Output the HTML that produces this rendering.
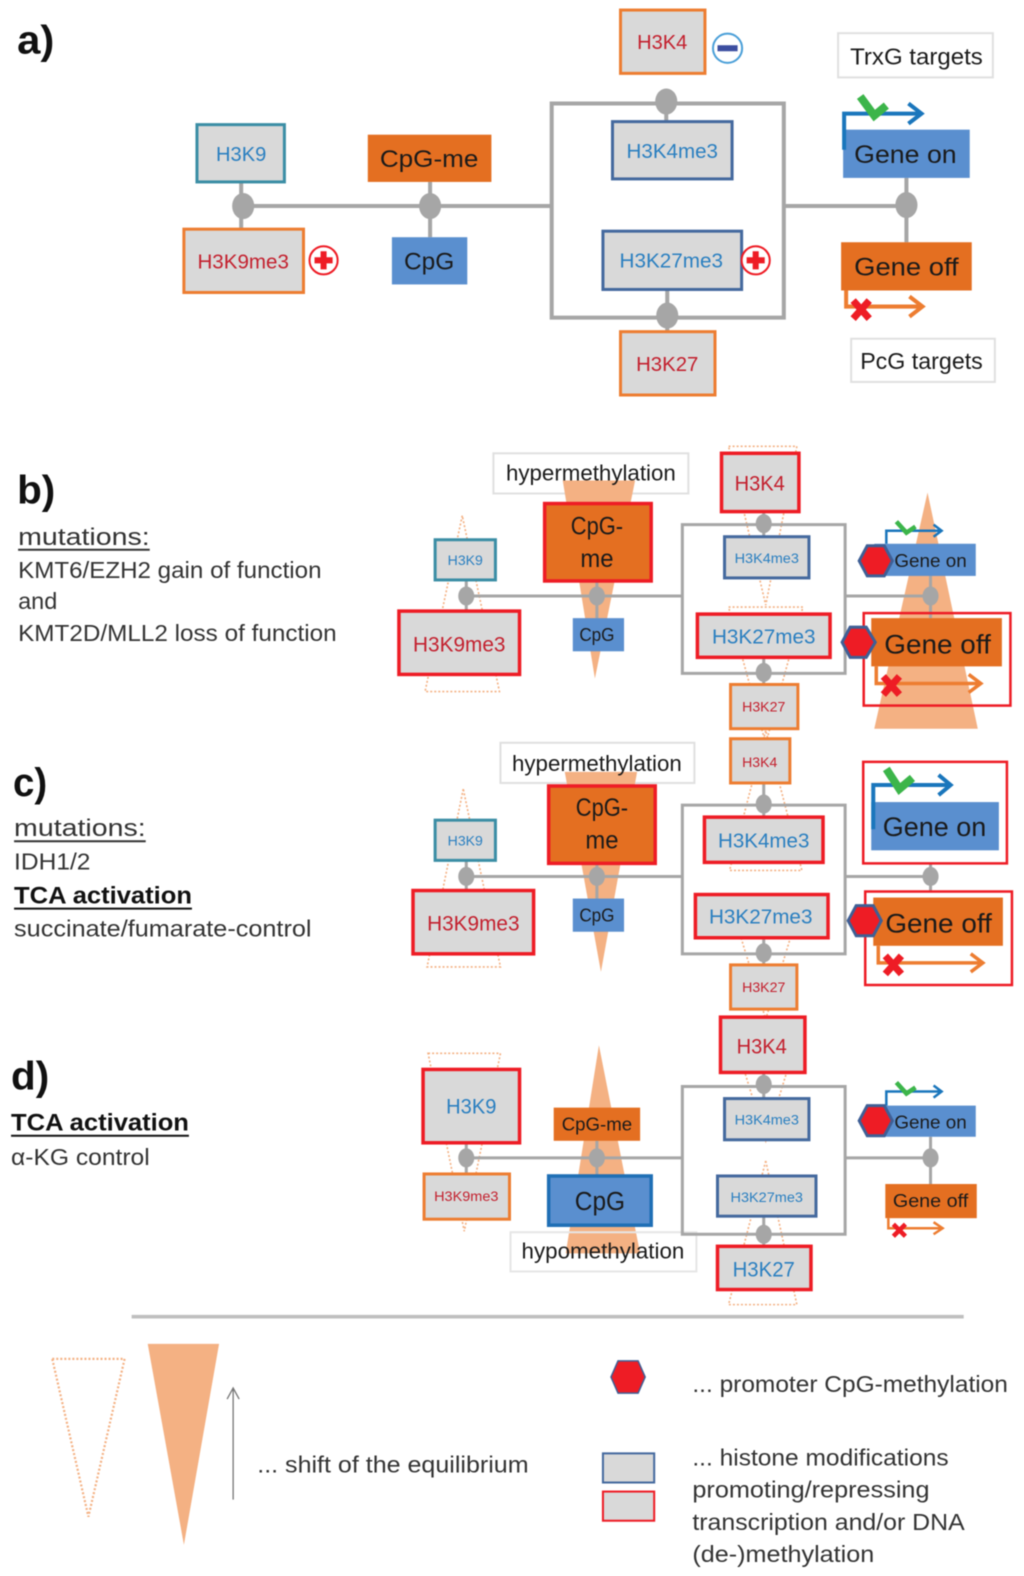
<!DOCTYPE html>
<html><head><meta charset="utf-8"><style>
html,body{margin:0;padding:0;background:#fff}
svg{display:block;filter:blur(.45px)}
text{font-family:"Liberation Sans",sans-serif;text-anchor:middle;fill:#1a1a1a;dominant-baseline:auto}
.l{text-anchor:start;fill:#333}
.h{font-weight:bold;font-size:40px;text-anchor:start;fill:#111}
.b{fill:#2a7fc0}.r{fill:#c3202e}
.g{fill:#d9d9d9}
.or{stroke:#ed7d31;stroke-width:3;fill:#d9d9d9}
.rd{stroke:#ee1c25;stroke-width:3.5;fill:#d9d9d9}
.bl{stroke:#44699e;stroke-width:3;fill:#d9d9d9}
.te{stroke:#3b8ea5;stroke-width:3;fill:#d9d9d9}
.o{fill:#e46f21}.c{fill:#5a8fcf}
.ln{stroke:#a6a6a6;stroke-width:4;fill:none}
.dot{fill:#a6a6a6}
.tri{fill:#f4b183}
.da{fill:none;stroke:#f4b183;stroke-width:1.6;stroke-dasharray:2 2}
.lab{fill:#fff;stroke:#e0e0e0;stroke-width:2}
.rb{fill:none;stroke:#ee1c25;stroke-width:2.5}
.hex{fill:#ee1c25;stroke:#3f5f95;stroke-width:3}
.ab{fill:none;stroke:#1a76bc;stroke-width:3.5}
.ao{fill:none;stroke:#ed7d31;stroke-width:3.5}
.ck{fill:none;stroke:#3cb54a;stroke-width:8}
.x{stroke:#ee1c25;stroke-width:7;fill:none}
</style></head><body>
<svg width="1024" height="1576" viewBox="0 0 1019 1568" preserveAspectRatio="none" xmlns="http://www.w3.org/2000/svg">
<rect width="1024" height="1576" fill="#fff"/>

<!-- PANEL A -->
<text class="h" x="17" y="53" textLength="37" lengthAdjust="spacingAndGlyphs">a)</text>
<path class="ln" d="M549 103H780V316H549Z M242 205H549 M780 205H902 M240 181V228 M428 181V236 M902 177V241 M663 101V121 M664 288V330"/>
<ellipse class="dot" cx="242" cy="205" rx="11" ry="13"/><ellipse class="dot" cx="428" cy="205" rx="11" ry="13"/>
<ellipse class="dot" cx="902" cy="204" rx="11" ry="13"/><ellipse class="dot" cx="663" cy="101" rx="11" ry="13"/><ellipse class="dot" cx="664" cy="314" rx="11" ry="13"/>
<rect class="or" x="617.500" y="10" width="84" height="63"/><text class="r" x="659" y="49" font-size="20" textLength="50" lengthAdjust="spacingAndGlyphs">H3K4</text>
<circle cx="724" cy="48" r="14.500" fill="#fff" stroke="#4a9fd8" stroke-width="2"/><rect x="714" y="45" width="20" height="6" fill="#3c4ea0"/>
<rect class="lab" x="834" y="33" width="154" height="44"/><text x="912" y="64" font-size="23" textLength="132" lengthAdjust="spacingAndGlyphs">TrxG targets</text>
<rect class="bl" x="609.500" y="121" width="119" height="57"/><text class="b" x="669" y="157" font-size="20" textLength="91" lengthAdjust="spacingAndGlyphs">H3K4me3</text>
<rect class="bl" x="600" y="230" width="138" height="58"/><text class="b" x="668" y="266" font-size="20" textLength="103" lengthAdjust="spacingAndGlyphs">H3K27me3</text>
<circle cx="752" cy="259" r="14" fill="#fff" stroke="#ee1c25" stroke-width="2"/><path d="M752 250V268M743 259H761" stroke="#ee1c25" stroke-width="6"/>
<rect class="or" x="617.500" y="330" width="94" height="63"/><text class="r" x="664" y="369" font-size="20" textLength="62" lengthAdjust="spacingAndGlyphs">H3K27</text>
<rect class="te" x="196" y="124" width="87" height="57"/><text class="b" x="240" y="160" font-size="20" textLength="50" lengthAdjust="spacingAndGlyphs">H3K9</text>
<rect class="or" x="183" y="228" width="119" height="63"/><text class="r" x="242" y="267" font-size="20" textLength="91" lengthAdjust="spacingAndGlyphs">H3K9me3</text>
<circle cx="322" cy="259" r="14" fill="#fff" stroke="#ee1c25" stroke-width="2"/><path d="M322 250V268M313 259H331" stroke="#ee1c25" stroke-width="6"/>
<rect class="o" x="366" y="134" width="123" height="47"/><text x="427" y="166" font-size="24" textLength="98" lengthAdjust="spacingAndGlyphs">CpG-me</text>
<rect class="c" x="390" y="236" width="75" height="47"/><text x="427" y="268" font-size="24" textLength="50" lengthAdjust="spacingAndGlyphs">CpG</text>
<rect class="c" x="839" y="129" width="126" height="48"/><text x="901" y="162" font-size="25" textLength="102" lengthAdjust="spacingAndGlyphs">Gene on</text>
<path class="ab" style="stroke-width:4" d="M840 149V113H916M904 103L917 113L904 123"/><path class="ck" d="M856 96L870 115L882 105"/>
<rect class="o" x="837" y="241" width="130" height="48"/><text x="902" y="274" font-size="25" textLength="104" lengthAdjust="spacingAndGlyphs">Gene off</text>
<path class="ao" style="stroke-width:4" d="M842 289V305H917M905 295L918 305L905 315"/><path class="x" d="M849 299L865 317M865 299L849 317"/>
<rect class="lab" x="847" y="337" width="143" height="43"/><text x="917" y="367" font-size="23" textLength="122" lengthAdjust="spacingAndGlyphs">PcG targets</text>

<!-- PANEL B -->
<text class="h" x="17" y="501" textLength="38" lengthAdjust="spacingAndGlyphs">b)</text>
<text class="l" x="18" y="542" font-size="24" textLength="131" lengthAdjust="spacingAndGlyphs">mutations:</text><path d="M18 547H149" stroke="#333" stroke-width="2"/>
<text class="l" x="18" y="575" font-size="23" textLength="302" lengthAdjust="spacingAndGlyphs">KMT6/EZH2 gain of function</text>
<text class="l" x="18" y="606" font-size="23" textLength="39" lengthAdjust="spacingAndGlyphs">and</text>
<text class="l" x="18" y="638" font-size="23" textLength="317" lengthAdjust="spacingAndGlyphs">KMT2D/MLL2 loss of function</text>

<rect class="lab" x="491" y="451" width="194" height="40"/>
<polygon class="tri" points="560,478 632,478 592,675"/>
<polygon class="tri" points="870,725 973,725 923,490"/>
<polygon class="da" points="460,513 423,688 497,688"/>
<polygon class="da" points="725,444 793,444 762,602"/>
<polygon class="da" points="725,604 799,604 762,740"/>
<text x="588" y="478" font-size="22" textLength="169" lengthAdjust="spacingAndGlyphs">hypermethylation</text>
<path class="ln" style="stroke-width:3" d="M679 522H841V670H679Z M464 593H679 M841 593H926 M464 577V608 M594 578V615 M926 573V615 M760 509V533 M760 654V681"/>
<ellipse class="dot" cx="464" cy="593" rx="8" ry="9.500"/><ellipse class="dot" cx="594" cy="593" rx="8" ry="9.500"/><ellipse class="dot" cx="926" cy="593" rx="8" ry="9.500"/><ellipse class="dot" cx="760" cy="521" rx="8" ry="9.500"/><ellipse class="dot" cx="760" cy="669" rx="8" ry="9.500"/>
<rect class="te" x="433" y="537" width="60" height="40" stroke-width="2.500"/><text class="b" x="463" y="562" font-size="13.500" textLength="35" lengthAdjust="spacingAndGlyphs">H3K9</text>
<rect class="rd" x="397" y="608" width="120" height="63"/><text class="r" x="457" y="648" font-size="21" textLength="92" lengthAdjust="spacingAndGlyphs">H3K9me3</text>
<rect x="542" y="501" width="106" height="77" fill="#e46f21" stroke="#ee1c25" stroke-width="3.500"/>
<text x="594" y="532" font-size="25" textLength="52" lengthAdjust="spacingAndGlyphs">CpG-</text><text x="594" y="564" font-size="25" textLength="33" lengthAdjust="spacingAndGlyphs">me</text>
<rect class="c" x="570" y="615" width="51" height="33"/><text x="594" y="638" font-size="18" textLength="35" lengthAdjust="spacingAndGlyphs">CpG</text>
<rect class="rd" x="718" y="451" width="77" height="58"/><text class="r" x="756" y="488" font-size="21" textLength="50" lengthAdjust="spacingAndGlyphs">H3K4</text>
<rect class="bl" x="721" y="534" width="84" height="41" stroke-width="2.500"/><text class="b" x="763" y="560" font-size="13.500" textLength="64" lengthAdjust="spacingAndGlyphs">H3K4me3</text>
<rect class="rd" x="694" y="611" width="132" height="43"/><text class="b" x="760" y="640" font-size="20" textLength="103" lengthAdjust="spacingAndGlyphs">H3K27me3</text>
<rect class="or" x="727" y="681" width="67" height="44" stroke-width="2.500"/><text class="r" x="760" y="708" font-size="13.500" textLength="43" lengthAdjust="spacingAndGlyphs">H3K27</text>
<rect class="c" x="870" y="541" width="101" height="32"/><text x="926" y="564" font-size="18" textLength="72" lengthAdjust="spacingAndGlyphs">Gene on</text>
<path class="ab" style="stroke-width:2.500" d="M882 541V528H936M929 522L937 528L929 534"/><path class="ck" style="stroke-width:4.500" d="M892 519L902 530L911 524"/>
<polygon class="hex" points="855,558 863,543 880,543 888,558 880,573 863,573"/>
<rect class="rb" x="859.500" y="610" width="146" height="92"/>
<rect class="o" x="867" y="615" width="130" height="48"/><text x="933" y="650" font-size="27" textLength="106" lengthAdjust="spacingAndGlyphs">Gene off</text>
<polygon class="hex" points="838,639 846,624 862,624 871,639 862,654 846,654"/>
<path class="ao" d="M872 663V680H975M964 671L976 680L964 689"/><path class="x" d="M879 673L895 691M895 673L879 691"/>

<!-- PANEL C -->
<text class="h" x="13" y="792" textLength="34" lengthAdjust="spacingAndGlyphs">c)</text>
<text class="l" x="14" y="832" font-size="24" textLength="131" lengthAdjust="spacingAndGlyphs">mutations:</text><path d="M14 837H145" stroke="#333" stroke-width="2"/>
<text class="l" x="14" y="865" font-size="23" textLength="76" lengthAdjust="spacingAndGlyphs">IDH1/2</text>
<text class="l" x="14" y="899" font-size="24" font-weight="bold" textLength="177" lengthAdjust="spacingAndGlyphs" style="fill:#111">TCA activation</text><path d="M14 904H191" stroke="#111" stroke-width="2"/>
<text class="l" x="14" y="932" font-size="23" textLength="296" lengthAdjust="spacingAndGlyphs">succinate/fumarate-control</text>

<rect class="lab" x="498" y="739" width="193" height="40"/>
<polygon class="tri" points="562,768 634,768 598,967"/>
<polygon class="da" points="461,785 425,962 498,962"/>
<polygon class="da" points="762,727 726,866 798,866"/>
<polygon class="da" points="725,892 799,892 762,1014"/>
<text x="594" y="767" font-size="22" textLength="169" lengthAdjust="spacingAndGlyphs">hypermethylation</text>
<path class="ln" style="stroke-width:3" d="M679 801H841V949H679Z M464 872H679 M841 872H926 M464 856V885 M594 859V895 M926 859V887 M760 779V812 M760 933V959"/>
<ellipse class="dot" cx="464" cy="872" rx="8" ry="9.500"/><ellipse class="dot" cx="594" cy="872" rx="8" ry="9.500"/><ellipse class="dot" cx="926" cy="872" rx="8" ry="9.500"/><ellipse class="dot" cx="760" cy="800" rx="8" ry="9.500"/><ellipse class="dot" cx="760" cy="948" rx="8" ry="9.500"/>
<rect class="te" x="433" y="816" width="60" height="40" stroke-width="2.500"/><text class="b" x="463" y="841" font-size="13.500" textLength="35" lengthAdjust="spacingAndGlyphs">H3K9</text>
<rect class="rd" x="411" y="886" width="120" height="63"/><text class="r" x="471" y="926" font-size="21" textLength="92" lengthAdjust="spacingAndGlyphs">H3K9me3</text>
<rect x="546" y="782" width="106" height="77" fill="#e46f21" stroke="#ee1c25" stroke-width="3.500"/>
<text x="599" y="812" font-size="25" textLength="52" lengthAdjust="spacingAndGlyphs">CpG-</text><text x="599" y="844" font-size="25" textLength="33" lengthAdjust="spacingAndGlyphs">me</text>
<rect class="c" x="570" y="894" width="51" height="33"/><text x="594" y="917" font-size="18" textLength="35" lengthAdjust="spacingAndGlyphs">CpG</text>
<rect class="or" x="727" y="735" width="59" height="44" stroke-width="2.500"/><text class="r" x="756" y="763" font-size="13.500" textLength="35" lengthAdjust="spacingAndGlyphs">H3K4</text>
<rect class="rd" x="701" y="813" width="118" height="45"/><text class="b" x="760" y="843" font-size="20" textLength="91" lengthAdjust="spacingAndGlyphs">H3K4me3</text>
<rect class="rd" x="692" y="890" width="132" height="43"/><text class="b" x="757" y="919" font-size="20" textLength="103" lengthAdjust="spacingAndGlyphs">H3K27me3</text>
<rect class="or" x="727" y="960" width="66" height="44" stroke-width="2.500"/><text class="r" x="760" y="987" font-size="13.500" textLength="43" lengthAdjust="spacingAndGlyphs">H3K27</text>
<rect class="rb" x="859" y="758" width="143" height="101"/>
<rect class="c" x="867" y="798" width="127" height="48"/><text x="930" y="832" font-size="27" textLength="103" lengthAdjust="spacingAndGlyphs">Gene on</text>
<path class="ab" style="stroke-width:4" d="M869 825V781H945M934 771L946 781L934 791"/><path class="ck" d="M882 765L895 785L908 774"/>
<rect class="rb" x="861" y="887" width="146" height="93"/>
<rect class="o" x="869" y="893" width="129" height="48"/><text x="934" y="928" font-size="27" textLength="106" lengthAdjust="spacingAndGlyphs">Gene off</text>
<polygon class="hex" points="844,916 852,901 869,901 877,916 869,931 852,931"/>
<path class="ao" d="M874 941V958H977M966 949L978 958L966 967"/><path class="x" d="M881 951L897 969M897 951L881 969"/>

<!-- PANEL D -->
<text class="h" x="11" y="1084" textLength="38" lengthAdjust="spacingAndGlyphs">d)</text>
<text class="l" x="11" y="1125" font-size="24" font-weight="bold" textLength="177" lengthAdjust="spacingAndGlyphs" style="fill:#111">TCA activation</text><path d="M11 1130H188" stroke="#111" stroke-width="2"/>
<text class="l" x="11" y="1159" font-size="23" textLength="138" lengthAdjust="spacingAndGlyphs">α-KG control</text>

<polygon class="tri" points="596,1040 563,1247 637,1247"/>
<polygon class="da" points="426,1048 498,1048 462,1225"/>
<polygon class="da" points="725,1014 799,1014 762,1135"/>
<polygon class="da" points="762,1155 725,1298 793,1298"/>
<rect x="508" y="1226" width="185" height="39" fill="none" stroke="#e6e6e6" stroke-width="2"/>
<text x="600" y="1252" font-size="22" textLength="162" lengthAdjust="spacingAndGlyphs">hypomethylation</text>
<path class="ln" style="stroke-width:3" d="M679 1081H841V1228H679Z M464 1152H679 M841 1152H926 M464 1137V1168 M594 1135V1170 M926 1131V1178 M760 1067V1092 M760 1210V1240"/>
<ellipse class="dot" cx="464" cy="1152" rx="8" ry="9.500"/><ellipse class="dot" cx="594" cy="1152" rx="8" ry="9.500"/><ellipse class="dot" cx="926" cy="1152" rx="8" ry="9.500"/><ellipse class="dot" cx="760" cy="1079" rx="8" ry="9.500"/><ellipse class="dot" cx="760" cy="1228" rx="8" ry="9.500"/>
<rect class="rd" x="421" y="1064" width="96" height="73"/><text class="b" x="469" y="1108" font-size="21" textLength="50" lengthAdjust="spacingAndGlyphs">H3K9</text>
<rect class="or" x="422" y="1168" width="85" height="45" stroke-width="2.500"/><text class="r" x="464" y="1195" font-size="13.500" textLength="64" lengthAdjust="spacingAndGlyphs">H3K9me3</text>
<rect class="o" x="551" y="1102" width="86" height="33"/><text x="594" y="1125" font-size="18" textLength="70" lengthAdjust="spacingAndGlyphs">CpG-me</text>
<rect x="546" y="1170" width="102" height="49" fill="#5a8fcf" stroke="#1f6fb5" stroke-width="3.500"/><text x="597" y="1204" font-size="26" textLength="50" lengthAdjust="spacingAndGlyphs">CpG</text>
<rect class="rd" x="717" y="1012" width="84" height="55"/><text class="r" x="758" y="1048" font-size="21" textLength="50" lengthAdjust="spacingAndGlyphs">H3K4</text>
<rect class="bl" x="721" y="1093" width="84" height="41" stroke-width="2.500"/><text class="b" x="763" y="1119" font-size="13.500" textLength="64" lengthAdjust="spacingAndGlyphs">H3K4me3</text>
<rect class="bl" x="714" y="1170" width="98" height="40" stroke-width="2.500"/><text class="b" x="763" y="1196" font-size="13.500" textLength="72" lengthAdjust="spacingAndGlyphs">H3K27me3</text>
<rect class="rd" x="714" y="1240" width="93" height="43"/><text class="b" x="760" y="1270" font-size="21" textLength="62" lengthAdjust="spacingAndGlyphs">H3K27</text>
<rect class="c" x="870" y="1100" width="101" height="31"/><text x="926" y="1123" font-size="18" textLength="72" lengthAdjust="spacingAndGlyphs">Gene on</text>
<path class="ab" style="stroke-width:2.500" d="M882 1100V1086H936M929 1080L937 1086L929 1092"/><path class="ck" style="stroke-width:4.500" d="M892 1077L902 1088L911 1082"/>
<polygon class="hex" points="855,1115 863,1100 880,1100 888,1115 880,1130 863,1130"/>
<rect class="o" x="881" y="1178" width="91" height="34"/><text x="926" y="1201" font-size="18" textLength="75" lengthAdjust="spacingAndGlyphs">Gene off</text>
<path class="ao" style="stroke-width:2.500" d="M884 1212V1222H937M929 1216L938 1222L929 1228"/><path class="x" style="stroke-width:4.500" d="M889 1218L901 1230M901 1218L889 1230"/>

<!-- LEGEND -->
<path d="M131 1310H959" stroke="#bfbfbf" stroke-width="3.500"/>
<polygon class="da" style="stroke-width:2.200" points="52,1352 124,1352 88,1509"/>
<polygon class="tri" points="147,1337 218,1337 183,1537"/>
<path d="M232 1492V1381M226 1392L232 1381L238 1392" fill="none" stroke="#777" stroke-width="1.300"/>
<text class="l" x="256" y="1465" font-size="23" textLength="270" lengthAdjust="spacingAndGlyphs">... shift of the equilibrium</text>
<polygon class="hex" style="stroke-width:1.500" points="608,1370 615,1354 635,1354 642,1370 635,1386 615,1386"/>
<text class="l" x="689" y="1385" font-size="23" textLength="314" lengthAdjust="spacingAndGlyphs">... promoter CpG-methylation</text>
<rect class="bl" x="600" y="1446" width="51" height="29" style="stroke-width:2"/>
<rect class="rd" x="600" y="1484" width="51" height="29" style="stroke-width:2"/>
<text class="l" x="689" y="1458" font-size="23" textLength="255" lengthAdjust="spacingAndGlyphs">... histone modifications</text>
<text class="l" x="689" y="1490" font-size="23" textLength="236" lengthAdjust="spacingAndGlyphs">promoting/repressing</text>
<text class="l" x="689" y="1522" font-size="23" textLength="271" lengthAdjust="spacingAndGlyphs">transcription and/or DNA</text>
<text class="l" x="689" y="1554" font-size="23" textLength="181" lengthAdjust="spacingAndGlyphs">(de-)methylation</text>
</svg>
</body></html>
